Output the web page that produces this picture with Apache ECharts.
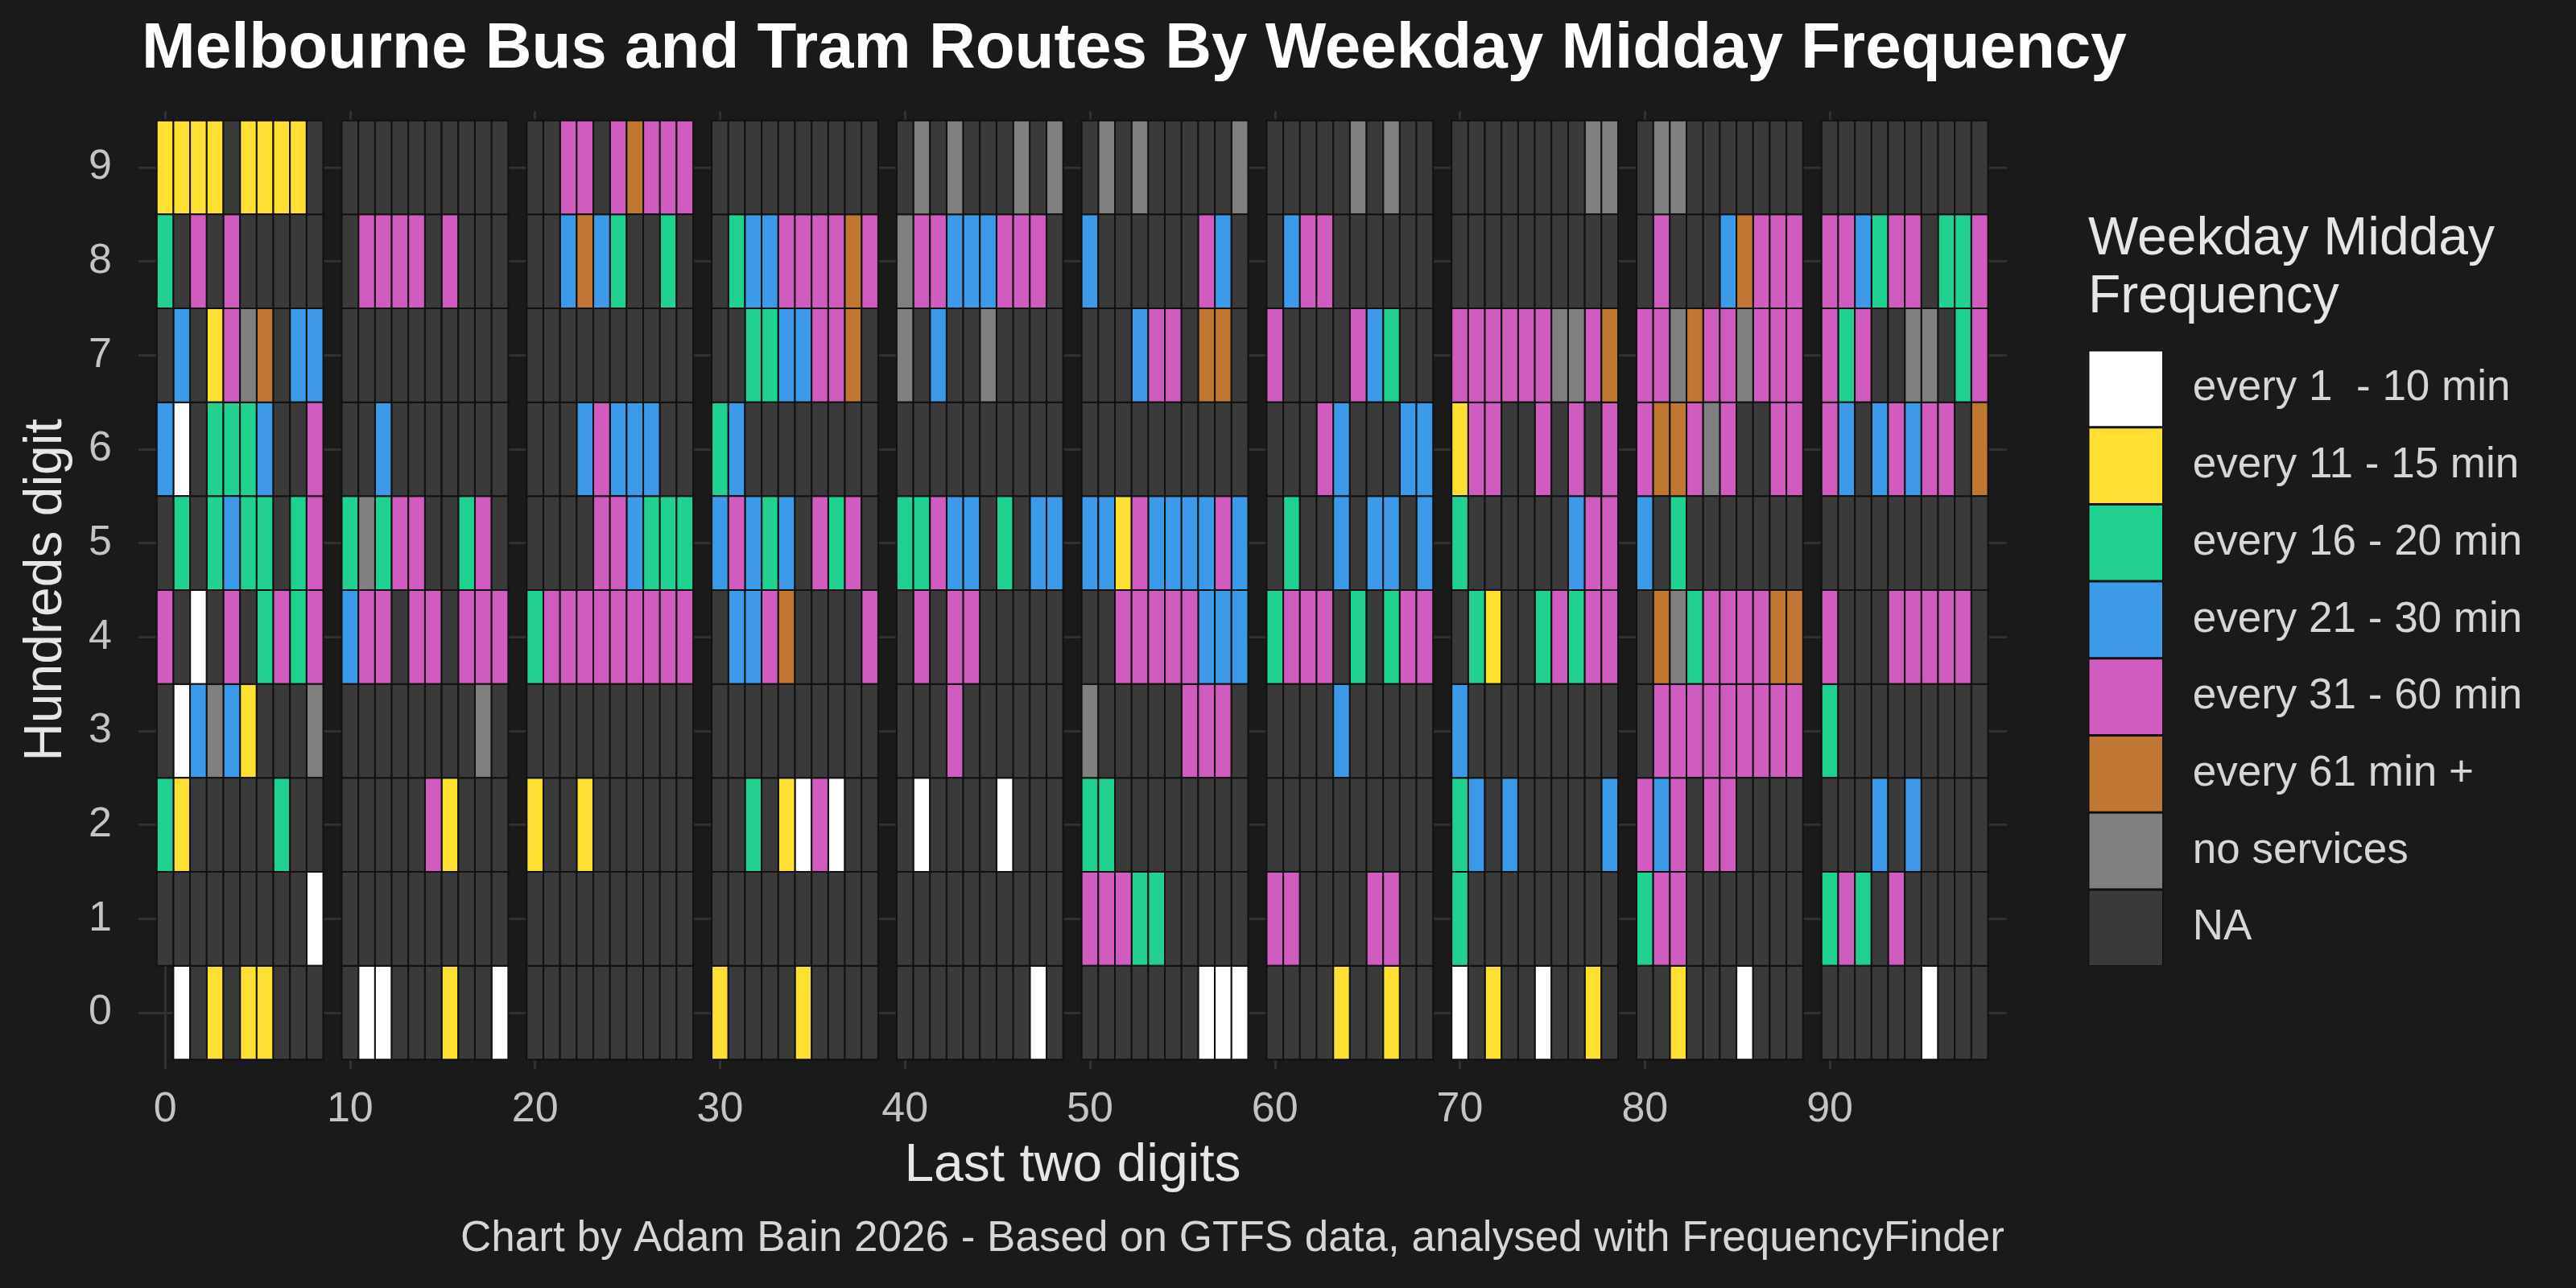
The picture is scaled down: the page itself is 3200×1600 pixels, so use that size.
<!DOCTYPE html>
<html>
<head>
<meta charset="utf-8">
<script src="https://cdn.jsdelivr.net/npm/echarts@6/dist/echarts.min.js"></script>
<style>
html,body{margin:0;padding:0;background:#1a1a1a;}
#chart{width:3200px;height:1600px;}
</style>
</head>
<body>
<div id="chart"></div>
<script>
// Frequency categories (legend order) and their one-letter codes used in the row strings
const categories = ['every 1  - 10 min', 'every 11 - 15 min', 'every 16 - 20 min', 'every 21 - 30 min',
                    'every 31 - 60 min', 'every 61 min +', 'no services', 'NA'];
const codes = ['W', 'Y', 'G', 'B', 'P', 'O', 'S', 'N'];
const colors = ['#ffffff', '#fde031', '#21d190', '#3d9ae8', '#cf5cbe', '#bf7732', '#808080', '#3a3a3a'];

const xTickValues = [0, 10, 20, 30, 40, 50, 60, 70, 80, 90];
const yTickValues = [0, 1, 2, 3, 4, 5, 6, 7, 8, 9];

// One string per hundreds digit; 10 groups (tens digit 0..9), each 10 routes (units 0..9).
// '_' = route number not present.
const hundreds0 = '_WNYNYYNNN NWWNNNYNNW NNNNNNNNNN YNNNNYNNNN NNNNNNNNWN NNNNNNNWWW NNNNYNNYNN WNYNNWNNYN NNYNNNWNNN NNNNNNWNNN';
const hundreds1 = 'NNNNNNNNNW NNNNNNNNNN NNNNNNNNNN NNNNNNNNNN NNNNNNNNNN PPPGGNNNNN PPNNNNPPNN GNNNNNNNNN GPPNNNNNNN GPGNPNNNNN';
const hundreds2 = 'GYNNNNNGNN NNNNNPYNNN YNNYNNNNNN NNGNYWPWNN NWNNNNWNNN GGNNNNNNNN NNNNNNNNNN GBNBNNNNNB PBPNPPNNNN NNNBNBNNNN';
const hundreds3 = 'NWBSBYNNNS NNNNNNNNSN NNNNNNNNNN NNNNNNNNNN NNNPNNNNNN SNNNNNPPPN NNNNBNNNNN BNNNNNNNNN NPPPPPPPPP GNNNNNNNNN';
const hundreds4 = 'PNWNPNGPGP BPPNPPNPPP GPPPPPPPPP NBBPONNNNP NPNPPNNNNN NNPPPPPBBB GPPPNGNGPP NGYNNGPGPP NOSGPPPPOO PNNNPPPPPN';
const hundreds5 = 'NGNGBGGNGP GSGPPNNGPN NNNNPPBGGG BPBGBNPGPN GGPBBNGNBB BBYPBBBBPB NGNNBNBBNB GNNNNNNBPP BNGNNNNNNN NNNNNNNNNN';
const hundreds6 = 'BWNGGGBNNP NNBNNNNNNN NNNBPBBBNN GBNNNNNNNN NNNNNNNNNN NNNNNNNNNN NNNPBNNNBB YPPNNPNPNP POOPSPNNPP PBNBPBPPNO';
const hundreds7 = 'NBNYPSONBB NNNNNNNNNN NNNNNNNNNN NNGGBBPPON SNBNNSNNNN NNNBPPNOON PNNNNPBGNN PPPPPPSSPO PPSOPPSPPP PGPNNSSNGP';
const hundreds8 = 'GNPNPNNNNN NPPPPNPNNN NNBOBGNNGN NGBBPPPPOP SPPBBBPPPN BNNNNNNPBN NBPPNNNNNN NNNNNNNNNN NPNNNBOPPP PPBGPPNGGP';
const hundreds9 = 'YYYYNYYYYN NNNNNNNNNN NNPPNPOPPP NNNNNNNNNN NSNSNNNSNS NSNSNNNNNS NNNNNSNSNN NNNNNNNNSS NSSNNNNNNN NNNNNNNNNN';

const hundredsRows = [hundreds0, hundreds1, hundreds2, hundreds3, hundreds4,
                      hundreds5, hundreds6, hundreds7, hundreds8, hundreds9];

// cells of a tens-group are packed at 0.9 unit spacing so that groups are separated by a gap
const CELL = 0.9;

const seriesData = categories.map(() => []);
hundredsRows.forEach((row, h) => {
  row.split(' ').forEach((group, tens) => {
    group.split('').forEach((code, units) => {
      const idx = codes.indexOf(code);
      if (idx < 0) return;
      seriesData[idx].push([tens * 10 + units * CELL, h, h * 100 + tens * 10 + units]);
    });
  });
});

function renderTile(params, api) {
  const x = api.value(0), y = api.value(1);
  const p1 = api.coord([x - CELL / 2, y + 0.5]);
  const p2 = api.coord([x + CELL / 2, y - 0.5]);
  return {
    type: 'rect',
    shape: { x: p1[0], y: p1[1], width: p2[0] - p1[0], height: p2[1] - p1[1] },
    style: { fill: api.visual('color'), stroke: '#111111', lineWidth: 2 }
  };
}

const FONT = 'Liberation Sans, Arial, sans-serif';

const chart = echarts.init(document.getElementById('chart'), null, { renderer: 'canvas' });
chart.setOption({
  backgroundColor: '#1a1a1a',
  animation: false,
  textStyle: { fontFamily: FONT },
  title: [
    {
      text: 'Melbourne Bus and Tram Routes By Weekday Midday Frequency',
      left: 176, top: 22, padding: 0,
      textStyle: { color: '#ffffff', fontSize: 80, fontWeight: 'bold', fontFamily: FONT }
    },
    {
      text: 'Weekday Midday\nFrequency',
      left: 2594, top: 262, padding: 0,
      textStyle: { color: '#e6e6e6', fontSize: 66, fontWeight: 'normal', lineHeight: 72, fontFamily: FONT }
    }
  ],
  legend: {
    orient: 'vertical',
    left: 2594, top: 435, padding: 0,
    itemWidth: 92, itemHeight: 94.2, itemGap: 0,
    icon: 'rect',
    selectedMode: false,
    itemStyle: { borderColor: '#111111', borderWidth: 1.5 },
    textStyle: { color: '#d6d6d6', fontSize: 53, fontFamily: FONT, padding: [0, 0, 0, 32] },
    data: categories
  },
  grid: { left: 172, right: 707, top: 138, bottom: 272, containLabel: false },
  xAxis: {
    type: 'value',
    min: -1.44, max: 99.57,
    name: 'Last two digits',
    nameLocation: 'middle', nameGap: 88,
    nameTextStyle: { color: '#e6e6e6', fontSize: 66, fontFamily: FONT },
    axisLine: { show: false },
    axisTick: { show: false, customValues: xTickValues },
    axisLabel: { customValues: xTickValues, color: '#c4c4c4', fontSize: 52, margin: 25, fontFamily: FONT },
    splitLine: { show: true, lineStyle: { color: '#313131', width: 3 } }
  },
  yAxis: {
    type: 'value',
    min: -0.6, max: 9.6,
    name: 'Hundreds digit',
    nameLocation: 'middle', nameGap: 81, nameRotate: 90,
    nameTextStyle: { color: '#e6e6e6', fontSize: 66, fontFamily: FONT },
    axisLine: { show: false },
    axisTick: { show: false, customValues: yTickValues },
    axisLabel: { customValues: yTickValues, color: '#c4c4c4', fontSize: 52, margin: 33, fontFamily: FONT },
    splitLine: { show: true, lineStyle: { color: '#313131', width: 3 } }
  },
  graphic: [
    {
      type: 'text', x: 1531, y: 1539,
      style: {
        text: 'Chart by Adam Bain 2026 - Based on GTFS data, analysed with FrequencyFinder',
        fill: '#d6d6d6', fontSize: 53, fontFamily: FONT, align: 'center', verticalAlign: 'middle'
      }
    }
  ],
  series: categories.map((name, i) => ({
    name: name,
    type: 'custom',
    renderItem: renderTile,
    itemStyle: { color: colors[i] },
    encode: { x: 0, y: 1 },
    data: seriesData[i]
  }))
});
</script>
</body>
</html>
